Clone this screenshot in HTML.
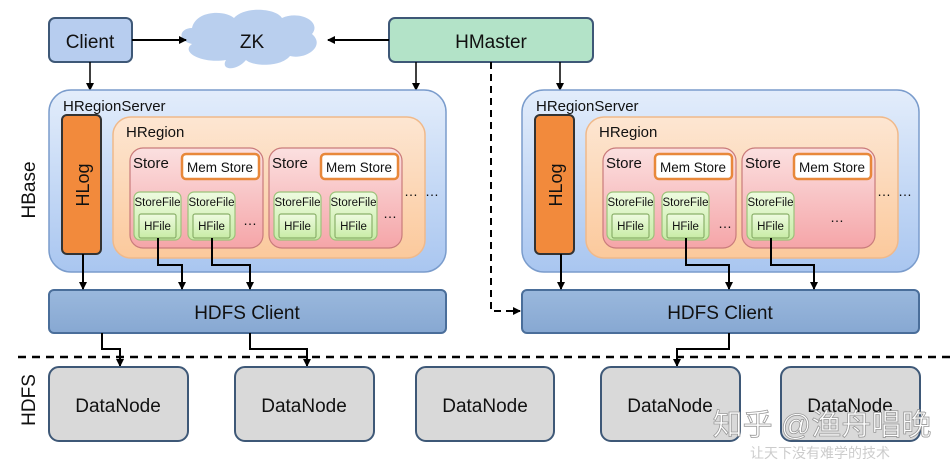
<!DOCTYPE html>
<html><head><meta charset="utf-8"><style>
html,body{margin:0;padding:0;background:#fff}
svg{display:block}
text{font-family:"Liberation Sans","Noto Sans CJK SC",sans-serif;fill:#111}
</style></head><body>
<svg width="952" height="464" viewBox="0 0 952 464" xmlns="http://www.w3.org/2000/svg">
<defs>
<marker id="a" markerWidth="8" markerHeight="8" refX="7" refY="4" orient="auto" markerUnits="userSpaceOnUse"><path d="M0,0 L8,4 L0,8 z" fill="#000"/></marker>
<linearGradient id="rs" x1="0" y1="0" x2="0" y2="1"><stop offset="0" stop-color="#e3edfb"/><stop offset="1" stop-color="#a9c6f0"/></linearGradient>
<linearGradient id="hr" x1="0" y1="0" x2="0" y2="1"><stop offset="0" stop-color="#fde6d2"/><stop offset="1" stop-color="#fbc99c"/></linearGradient>
<linearGradient id="st" x1="0" y1="0" x2="0" y2="1"><stop offset="0" stop-color="#fbe0e0"/><stop offset="1" stop-color="#f5a5a8"/></linearGradient>
<linearGradient id="sf" x1="0" y1="0" x2="0" y2="1"><stop offset="0" stop-color="#eefbe0"/><stop offset="1" stop-color="#c8eca6"/></linearGradient>
<linearGradient id="hc" x1="0" y1="0" x2="0" y2="1"><stop offset="0" stop-color="#9ab8dd"/><stop offset="1" stop-color="#87a8d2"/></linearGradient>
<g id="rsv">
<rect x="0" y="0" width="397" height="182" rx="22" fill="url(#rs)" stroke="#7a9ccc" stroke-width="1.5"/>
<text x="14" y="21" font-size="15">HRegionServer</text>
<rect x="13" y="25" width="39" height="139" rx="5" fill="#f28a3c" stroke="#333" stroke-width="2"/>
<text transform="translate(40,95) rotate(-90)" text-anchor="middle" font-size="18">HLog</text>
<rect x="64" y="27" width="312" height="141" rx="18" fill="url(#hr)" stroke="#f0b98a" stroke-width="1.5"/>
<text x="77" y="47" font-size="15">HRegion</text>
</g>
<g id="store">
<rect x="0" y="0" width="133" height="100" rx="13" fill="url(#st)" stroke="#c97b7b" stroke-width="1.2"/>
<text x="3" y="20" font-size="15">Store</text>
<rect x="52" y="6" width="77" height="25" rx="4" fill="#fff" stroke="#e8883a" stroke-width="2.5"/>
<text x="90" y="24" text-anchor="middle" font-size="13.5">Mem Store</text>
</g>
<g id="sf1">
<rect x="0" y="0" width="47" height="48" rx="6" fill="url(#sf)" stroke="#9cc27a" stroke-width="1.2"/>
<text x="23.5" y="14" text-anchor="middle" font-size="11.5">StoreFile</text>
<rect x="5" y="22" width="37" height="24" rx="2" fill="url(#sf)" stroke="#8ab06a" stroke-width="1.2"/>
<text x="23.5" y="38" text-anchor="middle" font-size="11.5">HFile</text>
</g>
</defs>

<rect x="49" y="18" width="83" height="44" rx="6" fill="#b7cdef" stroke="#3e5877" stroke-width="2"/>
<text x="90" y="48" text-anchor="middle" font-size="19">Client</text>
<path d="M192,28 C196,10 225,10 234,18 C244,6 276,8 282,18 C300,10 322,22 312,34 C326,46 306,60 290,56 C280,68 252,66 246,60 C236,72 220,70 226,60 C202,64 180,52 192,44 C176,40 180,28 192,28 z" fill="#b9cfee"/>
<text x="252" y="48" text-anchor="middle" font-size="19">ZK</text>
<rect x="389" y="18" width="204" height="44" rx="6" fill="#b3e3c8" stroke="#3e5877" stroke-width="2"/>
<text x="491" y="48" text-anchor="middle" font-size="19">HMaster</text>
<line x1="132" y1="40" x2="186" y2="40" stroke="#000" stroke-width="2" marker-end="url(#a)"/>
<line x1="389" y1="40" x2="328" y2="40" stroke="#000" stroke-width="2" marker-end="url(#a)"/>
<line x1="90" y1="62" x2="90" y2="90" stroke="#000" stroke-width="1.5" marker-end="url(#a)"/>
<line x1="416" y1="62" x2="416" y2="90" stroke="#000" stroke-width="1.5" marker-end="url(#a)"/>
<line x1="560" y1="62" x2="560" y2="90" stroke="#000" stroke-width="1.5" marker-end="url(#a)"/>
<path d="M491,62 V311 H520" fill="none" stroke="#000" stroke-width="2" stroke-dasharray="7,5" marker-end="url(#a)"/>

<use href="#rsv" x="49" y="90"/>
<use href="#store" x="130" y="148"/>
<use href="#store" x="269" y="148"/>
<use href="#sf1" x="134" y="192"/>
<use href="#sf1" x="188" y="192"/>
<use href="#sf1" x="274" y="192"/>
<use href="#sf1" x="330" y="192"/>
<text x="243" y="225" font-size="14">…</text>
<text x="383" y="218" font-size="14">…</text>
<text x="404" y="196" font-size="14">…</text>
<text x="425" y="196" font-size="14">…</text>

<use href="#rsv" x="522" y="90"/>
<use href="#store" x="603" y="148"/>
<use href="#store" x="742" y="148"/>
<use href="#sf1" x="607" y="192"/>
<use href="#sf1" x="662" y="192"/>
<use href="#sf1" x="747" y="192"/>
<text x="718" y="228" font-size="14">…</text>
<text x="830" y="222" font-size="14">…</text>
<text x="877" y="196" font-size="14">…</text>
<text x="898" y="196" font-size="14">…</text>

<rect x="49" y="290" width="397" height="43" rx="5" fill="url(#hc)" stroke="#4a6e9a" stroke-width="2"/>
<text x="247" y="319" text-anchor="middle" font-size="19">HDFS Client</text>
<rect x="522" y="290" width="397" height="43" rx="5" fill="url(#hc)" stroke="#4a6e9a" stroke-width="2"/>
<text x="720" y="319" text-anchor="middle" font-size="19">HDFS Client</text>

<g fill="none" stroke="#000" stroke-width="2">
<line x1="83" y1="254" x2="83" y2="289" marker-end="url(#a)"/>
<path d="M158,238 V265 H182 V289" marker-end="url(#a)"/>
<path d="M212,238 V265 H250 V289" marker-end="url(#a)"/>
<line x1="561" y1="254" x2="561" y2="289" marker-end="url(#a)"/>
<path d="M686,238 V265 H729 V289" marker-end="url(#a)"/>
<path d="M771,238 V265 H814 V289" marker-end="url(#a)"/>
<path d="M102,333 V349 H120 V366" marker-end="url(#a)"/>
<path d="M250,333 V349 H307 V366" marker-end="url(#a)"/>
<path d="M729,333 V349 H677 V366" marker-end="url(#a)"/>
</g>

<line x1="18" y1="357" x2="952" y2="357" stroke="#000" stroke-width="2.5" stroke-dasharray="8,6"/>

<text transform="translate(35,190) rotate(-90)" text-anchor="middle" font-size="19">HBase</text>
<text transform="translate(35,400) rotate(-90)" text-anchor="middle" font-size="19">HDFS</text>

<g fill="#d9d9d9" stroke="#3e5877" stroke-width="2">
<rect x="49" y="367" width="139" height="74" rx="10"/>
<rect x="235" y="367" width="139" height="74" rx="10"/>
<rect x="416" y="367" width="138" height="74" rx="10"/>
<rect x="601" y="367" width="139" height="74" rx="10"/>
<rect x="781" y="367" width="139" height="74" rx="10"/>
</g>
<g font-size="19" text-anchor="middle">
<text x="118" y="412">DataNode</text>
<text x="304" y="412">DataNode</text>
<text x="485" y="412">DataNode</text>
<text x="670" y="412">DataNode</text>
<text x="850" y="412">DataNode</text>
</g>
<text x="822" y="435" text-anchor="middle" font-size="30" style="fill:#fff;stroke:#999;stroke-width:0.8">知乎 @渔舟唱晚</text>
<text x="820" y="458" text-anchor="middle" font-size="14" style="fill:#ccc">让天下没有难学的技术</text>
</svg>
</body></html>
